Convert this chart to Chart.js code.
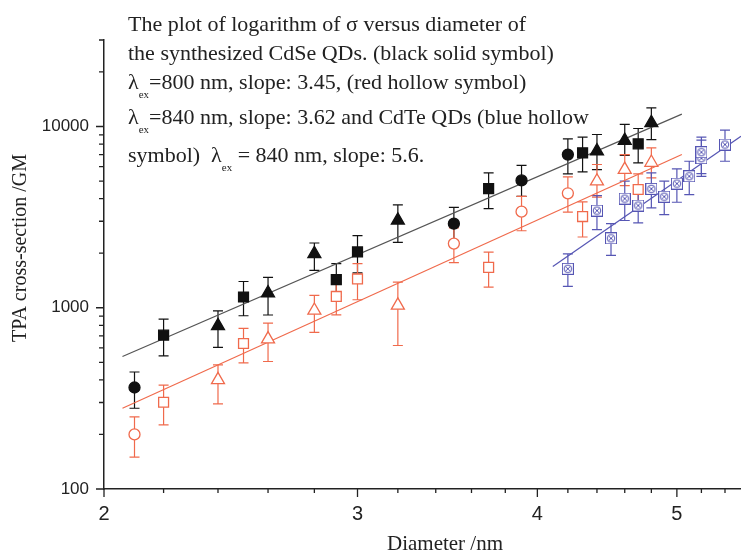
<!DOCTYPE html>
<html>
<head>
<meta charset="utf-8">
<script src="https://cdn.jsdelivr.net/npm/chart.js@4/dist/chart.umd.min.js"></script>
<style>
  body { margin: 0; background: #fff; }
  #wrap { position: relative; width: 741px; height: 554px; }
  .note { position: absolute; left: 128px; font-family: "Liberation Serif", serif; font-size: 22px; color: #222; white-space: pre; line-height: 22px; }
  .note sub { font-size: 11px; vertical-align: -9px; line-height: 0; }
</style>
</head>
<body>
<div id="wrap">
  <canvas id="tpaChart" width="741" height="554"></canvas>
  <div class="note" style="top:13px">The plot of logarithm of σ versus diameter of</div>
  <div class="note" style="top:42px">the synthesized CdSe QDs. (black solid symbol)</div>
  <div class="note" style="top:71px">λ<sub>ex</sub>=800 nm, slope: 3.45, (red hollow symbol)</div>
  <div class="note" style="top:106px">λ<sub>ex</sub>=840 nm, slope: 3.62 and CdTe QDs (blue hollow</div>
  <div class="note" style="top:144px">symbol)  λ<sub>ex</sub> = 840 nm, slope: 5.6.</div>
</div>
<script>
// axis ticks
const xLabels = [2, 3, 4, 5];
const xMinor = [2.2, 2.4, 2.6, 2.8, 3.2, 3.4, 3.6, 3.8, 4.2, 4.4, 4.6, 4.8, 5.2, 5.4];
const yLabels = [100, 1000, 10000];
const yMinor = [200, 300, 400, 500, 600, 700, 800, 900, 2000, 3000, 4000, 5000, 6000, 7000, 8000, 9000, 20000, 30000];

// CdSe, 800 nm (black solid)
const bCircX = [2.1, 3.5, 3.9, 4.2];
const bCircY = [363, 2910, 5040, 7000];
const bCircLo = [279, 2350, 4120, 5480];
const bCircHi = [442, 3580, 6100, 8550];

const bSqX = [2.2, 2.5, 2.9, 3.0, 3.7, 4.3, 4.7];
const bSqY = [706, 1146, 1429, 2031, 4540, 7160, 8020];
const bSqLo = [543, 903, 1153, 1556, 3525, 5620, 6300];
const bSqHi = [866, 1396, 1750, 2500, 5550, 8730, 9750];

const bTriX = [2.4, 2.6, 2.8, 3.2, 4.4, 4.6, 4.8];
const bTriY = [795, 1206, 1985, 3034, 7310, 8370, 10480];
const bTriLo = [604, 912, 1607, 2292, 5780, 6920, 8470];
const bTriHi = [962, 1469, 2276, 3690, 9030, 10260, 12680];

// CdSe, 840 nm (red hollow)
const rCircX = [2.1, 3.5, 3.9, 4.2];
const rCircY = [200, 2260, 3390, 4280];
const rCircLo = [150, 1774, 2660, 3365];
const rCircHi = [250, 2755, 4120, 5270];

const rSqX = [2.2, 2.5, 2.9, 3.0, 3.7, 4.3, 4.7];
const rSqY = [301, 635, 1154, 1442, 1670, 3185, 4490];
const rSqLo = [226, 497, 914, 1107, 1300, 2456, 3630];
const rSqHi = [374, 769, 1440, 1750, 2025, 3840, 5480];

const rTriX = [2.4, 2.6, 2.8, 3.2, 4.4, 4.6, 4.8];
const rTriY = [400, 671, 966, 1030, 4990, 5780, 6325];
const rTriLo = [295, 505, 731, 619, 4073, 4720, 5210];
const rTriHi = [484, 822, 1169, 1386, 6170, 7000, 7620];

// CdTe, 840 nm (blue hollow)
const blueX = [4.2, 4.4, 4.5, 4.6, 4.7, 4.8, 4.9, 5.0, 5.1, 5.2, 5.2, 5.4];
const blueY = [1641, 3436, 2415, 4000, 3662, 4530, 4100, 4840, 5310, 6680, 7210, 7950];
const blueLo = [1313, 2698, 1946, 3030, 2940, 3555, 3265, 3820, 4210, 5310, 5500, 6430];
const blueHi = [1983, 4160, 2912, 4990, 4490, 5550, 4990, 5840, 6430, 8400, 8730, 9550];

// linear fits (log-log)
const bFitX = [2.06, 5.04], bFitY = [538, 11700];
const rFitX = [2.06, 5.04], rFitY = [279, 7000];
const blueFitX = [4.10, 5.54], blueFitY = [1690, 8830];

const BLACK = '#111', RED = '#f06a4c', BLUE = '#5656b4';

function pts(xs, ys) {
  return xs.map((x, i) => ({ x: x, y: ys[i] }));
}

// crossed square marker for CdTe
function crossedSquare() {
  const c = document.createElement('canvas');
  c.width = 12; c.height = 12;
  const g = c.getContext('2d');
  g.fillStyle = '#fff';
  g.fillRect(0, 0, 12, 12);
  g.strokeStyle = BLUE;
  g.lineWidth = 1;
  g.strokeRect(0.5, 0.5, 11, 11);
  g.beginPath();
  g.arc(6, 6, 3.8, 0, Math.PI * 2);
  g.stroke();
  g.beginPath();
  g.moveTo(3.3, 3.3); g.lineTo(8.7, 8.7);
  g.moveTo(8.7, 3.3); g.lineTo(3.3, 8.7);
  g.stroke();
  return c;
}

function marks(xs, ys, lo, hi, style, color, filled, r) {
  return {
    data: pts(xs, ys),
    errLo: lo, errHi: hi, errColor: color,
    pointStyle: style,
    pointRadius: r,
    borderColor: color,
    backgroundColor: filled ? color : '#fff',
    borderWidth: 1.3
  };
}

function fit(xs, ys, color) {
  return {
    data: pts(xs, ys),
    showLine: true,
    pointRadius: 0,
    borderColor: color,
    borderWidth: 1.2,
    order: 5
  };
}

// error bars, drawn under the markers
const errorBars = {
  id: 'errorBars',
  beforeDatasetsDraw(chart) {
    const ctx = chart.ctx, xs = chart.scales.x, ys = chart.scales.y;
    ctx.save();
    chart.data.datasets.forEach(ds => {
      if (!ds.errLo) return;
      ctx.strokeStyle = ds.errColor;
      ctx.lineWidth = 1.2;
      ds.data.forEach((p, i) => {
        const px = xs.getPixelForValue(p.x);
        const top = ys.getPixelForValue(ds.errHi[i]);
        const bot = ys.getPixelForValue(ds.errLo[i]);
        ctx.beginPath();
        ctx.moveTo(px, top); ctx.lineTo(px, bot);
        ctx.moveTo(px - 5, top); ctx.lineTo(px + 5, top);
        ctx.moveTo(px - 5, bot); ctx.lineTo(px + 5, bot);
        ctx.stroke();
      });
    });
    ctx.restore();
  }
};

// Origin-like ticks and axis titles
const axisDeco = {
  id: 'axisDeco',
  afterDraw(chart) {
    const ctx = chart.ctx, xs = chart.scales.x, ys = chart.scales.y;
    const a = chart.chartArea;
    ctx.save();
    ctx.strokeStyle = '#222';
    ctx.lineWidth = 1.3;
    ctx.beginPath();
    xLabels.forEach(v => { const p = xs.getPixelForValue(v); ctx.moveTo(p, a.bottom); ctx.lineTo(p, a.bottom + 8); });
    xMinor.forEach(v => { const p = xs.getPixelForValue(v); ctx.moveTo(p, a.bottom); ctx.lineTo(p, a.bottom + 4); });
    yLabels.forEach(v => { const p = ys.getPixelForValue(v); ctx.moveTo(a.left - 8, p); ctx.lineTo(a.left, p); });
    yMinor.forEach(v => { const p = ys.getPixelForValue(v); ctx.moveTo(a.left - 5, p); ctx.lineTo(a.left, p); });
    ctx.stroke();

    ctx.fillStyle = '#222';
    ctx.textAlign = 'center';
    ctx.textBaseline = 'middle';
    ctx.font = '21px "Liberation Serif"';
    ctx.fillText('Diameter /nm', 445, 544);
    ctx.translate(21, 248);
    ctx.rotate(-Math.PI / 2);
    ctx.font = '20px "Liberation Serif"';
    ctx.fillText('TPA cross-section /GM', 0, 0);
    ctx.restore();
  }
};

new Chart(document.getElementById('tpaChart'), {
  type: 'scatter',
  data: {
    datasets: [
      marks(bCircX, bCircY, bCircLo, bCircHi, 'circle', BLACK, true, 5.5),
      marks(bSqX, bSqY, bSqLo, bSqHi, 'rect', BLACK, true, 7),
      marks(bTriX, bTriY, bTriLo, bTriHi, 'triangle', BLACK, true, 7.5),
      marks(rCircX, rCircY, rCircLo, rCircHi, 'circle', RED, false, 5.5),
      marks(rSqX, rSqY, rSqLo, rSqHi, 'rect', RED, false, 7),
      marks(rTriX, rTriY, rTriLo, rTriHi, 'triangle', RED, false, 7.5),
      marks(blueX, blueY, blueLo, blueHi, crossedSquare(), BLUE, false, 6),
      fit(bFitX, bFitY, '#555'),
      fit(rFitX, rFitY, RED),
      fit(blueFitX, blueFitY, BLUE)
    ]
  },
  options: {
    responsive: false,
    devicePixelRatio: 1,
    animation: false,
    layout: { autoPadding: false, padding: { top: 40, right: 0, left: 0, bottom: 0 } },
    plugins: { legend: { display: false }, tooltip: { enabled: false } },
    scales: {
      x: {
        type: 'logarithmic',
        min: 2, max: 5.54,
        afterBuildTicks: s => { s.ticks = xLabels.map(v => ({ value: v })); },
        afterFit: s => { s.height = 65; s.paddingRight = 0; s.paddingLeft = 0; },
        grid: { display: false },
        border: { display: true, color: '#222', width: 1.5 },
        ticks: {
          callback: v => String(v),
          color: '#222',
          padding: 5,
          maxRotation: 0,
          font: { family: '"Liberation Sans"', size: 20 }
        }
      },
      y: {
        type: 'logarithmic',
        min: 100, max: 30000,
        afterBuildTicks: s => { s.ticks = yLabels.map(v => ({ value: v })); },
        afterFit: s => { s.width = 104; s.paddingTop = 0; s.paddingBottom = 0; },
        grid: { display: false },
        border: { display: true, color: '#222', width: 1.5 },
        ticks: {
          callback: v => String(v),
          color: '#222',
          padding: 7,
          font: { family: '"Liberation Sans"', size: 17 }
        }
      }
    }
  },
  plugins: [errorBars, axisDeco]
});
</script>
</body>
</html>
